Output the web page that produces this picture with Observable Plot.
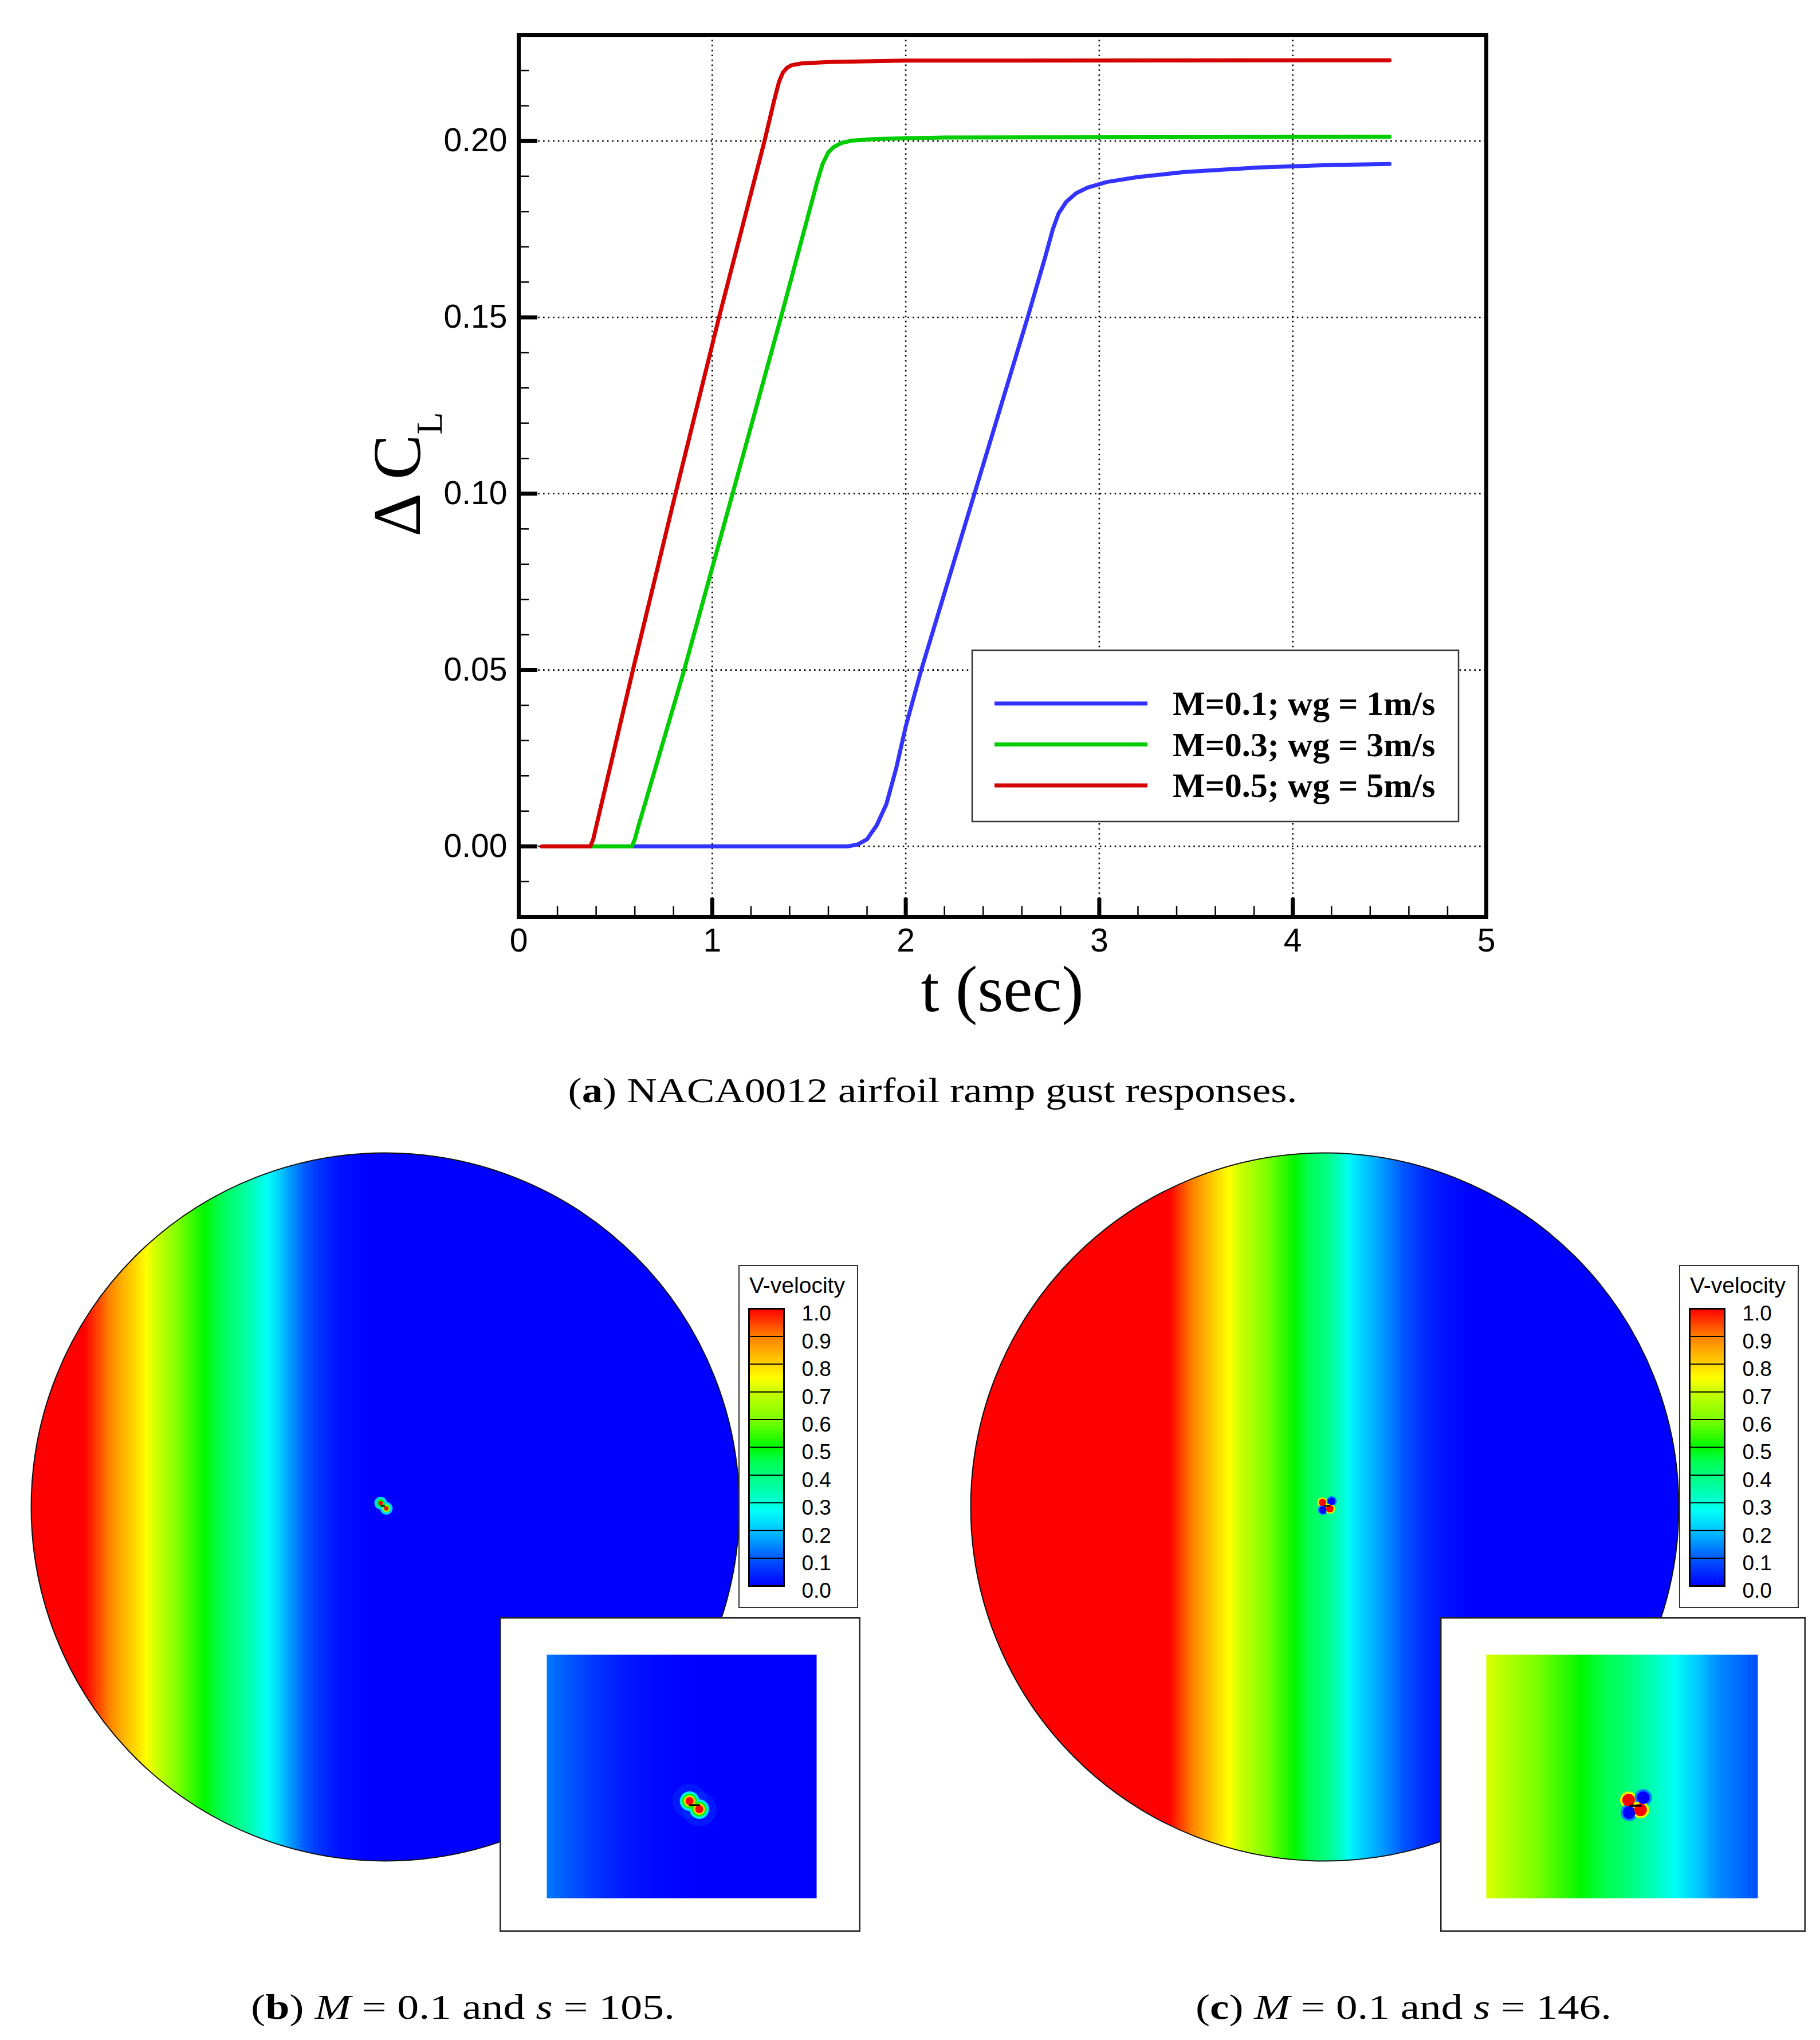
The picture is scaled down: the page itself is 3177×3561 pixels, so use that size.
<!DOCTYPE html>
<html>
<head>
<meta charset="utf-8">
<script src="https://cdn.jsdelivr.net/npm/d3@7"></script>
<script src="https://cdn.jsdelivr.net/npm/@observablehq/plot@0.6"></script>
<style>
html, body { margin: 0; padding: 0; background: #fff; }
#page { position: relative; width: 3177px; height: 3561px; overflow: hidden; background: #fff; }
#page > svg { position: absolute; }
</style>
</head>
<body>
<div id="page"></div>
<script>
// ---------------- data: panel (a) ramp gust responses ----------------
const seriesNames = ["M=0.1; wg = 1m/s", "M=0.3; wg = 3m/s", "M=0.5; wg = 5m/s"];
const seriesColors = ["#3333ff", "#00cc00", "#d40000"];

const tM01 = [0.12, 1.70, 1.75, 1.80, 1.85, 1.90, 1.95, 2.00, 2.08, 2.355, 2.63, 2.72, 2.76, 2.79, 2.83, 2.88, 2.94, 3.04, 3.20, 3.44, 3.83, 4.20, 4.50];
const cM01 = [0.0, 0.0, 0.0005, 0.002, 0.006, 0.012, 0.022, 0.034, 0.050, 0.100, 0.150, 0.167, 0.175, 0.1795, 0.1828, 0.1852, 0.1868, 0.1884, 0.1898, 0.1912, 0.1925, 0.1932, 0.1935];

const tM03 = [0.12, 0.585, 0.60, 0.62, 0.855, 1.105, 1.355, 1.54, 1.57, 1.60, 1.63, 1.67, 1.72, 1.85, 2.20, 4.50];
const cM03 = [0.0, 0.0, 0.002, 0.006, 0.050, 0.100, 0.150, 0.188, 0.1935, 0.1968, 0.1984, 0.1995, 0.2001, 0.2006, 0.2010, 0.2012];

const tM05 = [0.12, 0.37, 0.385, 0.59, 0.81, 1.035, 1.27, 1.32, 1.345, 1.365, 1.385, 1.41, 1.46, 1.60, 2.00, 4.50];
const cM05 = [0.0, 0.0, 0.002, 0.050, 0.100, 0.150, 0.200, 0.2115, 0.2168, 0.2194, 0.2207, 0.2215, 0.2220, 0.2224, 0.2228, 0.2229];

const xMajorTicks = [0, 1, 2, 3, 4, 5];
const xMinorTicks = [0.2, 0.4, 0.6, 0.8, 1.2, 1.4, 1.6, 1.8, 2.2, 2.4, 2.6, 2.8, 3.2, 3.4, 3.6, 3.8, 4.2, 4.4, 4.6, 4.8];
const yMajorTicks = [0.00, 0.05, 0.10, 0.15, 0.20];
const yMinorTicks = [-0.01, 0.01, 0.02, 0.03, 0.04, 0.06, 0.07, 0.08, 0.09, 0.11, 0.12, 0.13, 0.14, 0.16, 0.17, 0.18, 0.19, 0.21, 0.22];
const xDomain = [0, 5];
const yDomain = [-0.02, 0.23];

// ---------------- data: panels (b), (c) V-velocity fields ----------------
const levels = [0.0, 0.1, 0.2, 0.3, 0.4, 0.5, 0.6, 0.7, 0.8, 0.9, 1.0];
const stopValues = [0.0, 0.1, 0.2, 0.27, 0.35, 0.45, 0.5, 0.6, 0.7, 0.75, 0.8, 0.9, 1.0];
const stopColors = ["#0000ff", "#0058ff", "#00c4ff", "#00fff8", "#00ffa8", "#00ff50", "#00f800", "#7cff00", "#c8ff00", "#ffff00", "#ffd400", "#ff8000", "#ff0000"];

// v-velocity across the far field (x in units of the circle radius)
const bandPosB = [-1.1, -0.85, -0.80, -0.755, -0.71, -0.675, -0.63, -0.585, -0.51, -0.45, -0.41, -0.36, -0.32, -0.28, -0.24, -0.19, -0.13, -0.05, 1.1];
const bandVelB = [1.0, 1.0, 0.93, 0.86, 0.80, 0.75, 0.68, 0.60, 0.50, 0.43, 0.38, 0.31, 0.25, 0.18, 0.12, 0.06, 0.02, 0.0, 0.0];
const bandPosC = [-1.1, -0.44, -0.40, -0.355, -0.31, -0.27, -0.22, -0.17, -0.084, -0.03, 0.0, 0.04, 0.078, 0.12, 0.175, 0.22, 0.28, 0.34, 0.42, 1.1];
const bandVelC = [1.0, 1.0, 0.94, 0.87, 0.80, 0.75, 0.68, 0.61, 0.50, 0.43, 0.40, 0.33, 0.25, 0.20, 0.15, 0.10, 0.05, 0.02, 0.0, 0.0];

// v-velocity across the zoomed insets (x from 0 = left edge to 1 = right edge)
const insetPosB = [0.0, 0.08, 0.18, 0.28, 0.40, 0.55, 1.0];
const insetVelB = [0.13, 0.10, 0.06, 0.03, 0.01, 0.0, 0.0];
const insetPosC = [0.0, 0.15, 0.35, 0.50, 0.62, 0.72, 0.85, 1.0];
const insetVelC = [0.72, 0.62, 0.50, 0.42, 0.33, 0.25, 0.15, 0.09];

// singularities around the plate (position + level values from outer ring to core)
const blobsB = [
  {x: -0.013, y: 0.011, vals: [0.22, 0.5, 1.0]},
  {x: 0.003, y: -0.004, vals: [0.22, 0.6, 1.0]}
];
const blobsC = [
  {x: -0.0065, y: 0.0127, vals: [0.72, 1.0]},
  {x: 0.0194, y: 0.016, vals: [0.14, 0.0]},
  {x: -0.005, y: -0.0083, vals: [0.14, 0.0]},
  {x: 0.0146, y: -0.005, vals: [0.72, 1.0]}
];
const insetBlobsB = [
  {x: 0.529, y: 0.601, vals: [0.06, 0.25, 0.5, 0.8, 1.0]},
  {x: 0.565, y: 0.634, vals: [0.06, 0.25, 0.5, 0.8, 1.0]}
];
const insetBlobsC = [
  {x: 0.524, y: 0.597, vals: [0.72, 1.0]},
  {x: 0.578, y: 0.587, vals: [0.14, 0.0]},
  {x: 0.526, y: 0.648, vals: [0.14, 0.0]},
  {x: 0.568, y: 0.637, vals: [0.72, 1.0]}
];
const plateB = [{x1: -0.012, x2: 0.0, y: 0.003}];
const plateC = [{x1: 0.0, x2: 0.016, y: 0.003}];
const insetPlateB = [{x1: 0.527, x2: 0.569, y: 0.618}];
const insetPlateC = [{x1: 0.529, x2: 0.573, y: 0.620}];
const origin = [{x: 0, y: 0}];

// ---------------- layout ----------------
const W = 3177, H = 3561;
const page = d3.select("#page");
const colorScale = {type: "linear", domain: stopValues, range: stopColors, interpolate: "rgb", clamp: true};

function place(svg, left, top) {
  svg.style.left = left + "px";
  svg.style.top = top + "px";
  page.node().appendChild(svg);
  return d3.select(svg);
}

// ---------------- panel (a) ----------------
const fr = {left: 905, right: 2594, top: 61, bottom: 1600};
const chartH = 1800;
const fw = fr.right - fr.left, fh = fr.bottom - fr.top;
const toRows = (t, c) => t.map((d, i) => ({t: d, cl: c[i]}));
const seriesRows = [toRows(tM01, cM01), toRows(tM03, cM03), toRows(tM05, cM05)];
const dotted = {stroke: "#000", strokeOpacity: 1, strokeWidth: 2.6, strokeDasharray: "2.6,6"};

const chart = Plot.plot({
  width: W, height: chartH,
  marginLeft: fr.left, marginRight: W - fr.right, marginTop: fr.top, marginBottom: chartH - fr.bottom,
  x: {domain: xDomain},
  y: {domain: yDomain},
  style: {fontFamily: "'Liberation Sans', Arial, sans-serif", background: "transparent", overflow: "visible"},
  marks: [
    Plot.gridX({ticks: xMajorTicks.slice(1, -1), ...dotted}),
    Plot.gridY({ticks: yMajorTicks, ...dotted}),
    ...seriesRows.map((rows, i) => Plot.line(rows, {x: "t", y: "cl", stroke: seriesColors[i], strokeWidth: 7, strokeLinejoin: "round"})),
    Plot.tickX(xMinorTicks, {x: d => d, insetTop: fh - 18, stroke: "#000", strokeWidth: 2.5}),
    Plot.tickX(xMajorTicks, {x: d => d, insetTop: fh - 33, stroke: "#000", strokeWidth: 7}),
    Plot.tickY(yMinorTicks, {y: d => d, insetRight: fw - 18, stroke: "#000", strokeWidth: 2.5}),
    Plot.tickY(yMajorTicks, {y: d => d, insetRight: fw - 33, stroke: "#000", strokeWidth: 7}),
    Plot.frame({stroke: "#000", strokeWidth: 7}),
    Plot.axisX({ticks: xMajorTicks, tickSize: 0, tickPadding: 20, fontSize: 57, tickFormat: d => String(d), label: null, fill: "#000"}),
    Plot.axisY({ticks: yMajorTicks, tickSize: 0, tickPadding: 20, fontSize: 57, tickFormat: d3.format(".2f"), label: null, fill: "#000"})
  ]
});
const cs = place(chart, 0, 0);

// axis titles
cs.append("text")
  .attr("transform", "translate(733,828) rotate(-90)")
  .attr("text-anchor", "middle")
  .attr("font-family", "'Liberation Serif', 'Times New Roman', serif")
  .attr("font-size", 118)
  .attr("fill", "#000")
  .call(t => {
    t.append("tspan").text("\u0394\u2009C");
    t.append("tspan").attr("font-size", 64).attr("dy", 38).text("L");
  });
cs.append("text")
  .attr("x", (fr.left + fr.right) / 2).attr("y", 1765)
  .attr("text-anchor", "middle")
  .attr("font-family", "'Liberation Serif', 'Times New Roman', serif")
  .attr("font-size", 115).attr("fill", "#000")
  .text("t (sec)");

// legend
const lg = cs.append("g").attr("text-anchor", "start");
lg.append("rect").attr("x", 1697).attr("y", 1135).attr("width", 849).attr("height", 299)
  .attr("fill", "#fff").attr("stroke", "#333").attr("stroke-width", 2.5);
seriesNames.forEach((name, i) => {
  const yy = 1228 + i * 71.5;
  lg.append("line").attr("x1", 1736).attr("x2", 2003).attr("y1", yy).attr("y2", yy)
    .attr("stroke", seriesColors[i]).attr("stroke-width", 7);
  lg.append("text").attr("x", 2047).attr("y", yy).attr("dy", "0.34em")
    .attr("text-anchor", "start")
    .attr("font-family", "'Liberation Serif', 'Times New Roman', serif")
    .attr("font-weight", "bold").attr("font-size", 60).attr("fill", "#000")
    .text(name);
});

// ---------------- panels (b), (c) ----------------
function fieldPoints(pos, vel, ylo, yhi) {
  return pos.flatMap((x, i) => [{x, y: ylo, v: vel[i]}, {x, y: yhi, v: vel[i]}]);
}

function makeCircle(id, pos, vel, blobs, radii, plate, cx, cy) {
  const R = 618, half = 650, ext = half / R;
  const svg = Plot.plot({
    width: 2 * half, height: 2 * half, margin: 0,
    x: {domain: [-ext, ext], axis: null},
    y: {domain: [-ext, ext], axis: null},
    color: colorScale,
    style: {background: "transparent", overflow: "visible"},
    marks: [
      Plot.raster(fieldPoints(pos, vel, -1.1, 1.1), {x: "x", y: "y", fill: "v", interpolate: "barycentric", pixelSize: 2}),
      ...radii.map((r, k) => Plot.dot(blobs, {x: "x", y: "y", r, fill: d => d.vals[k], stroke: null})),
      Plot.ruleY(plate, {y: "y", x1: "x1", x2: "x2", stroke: "#000", strokeWidth: 2.5}),
      Plot.dot(origin, {x: "x", y: "y", r: R, stroke: "#111", strokeWidth: 2, fill: "none"})
    ]
  });
  const s = place(svg, cx - half, cy - half);
  s.append("defs").append("clipPath").attr("id", id).append("circle")
    .attr("cx", half).attr("cy", half).attr("r", R);
  s.select("g[aria-label='raster']").attr("clip-path", `url(#${id})`);
  return s;
}

function makeInset(pos, vel, blobs, radii, plate, left, top, w, h, ml, mt, iw, ih) {
  const svg = Plot.plot({
    width: w, height: h,
    marginLeft: ml, marginTop: mt, marginRight: w - ml - iw, marginBottom: h - mt - ih,
    x: {domain: [0, 1], axis: null},
    y: {domain: [0, 1], reverse: true, axis: null},
    color: colorScale,
    style: {background: "#fff", overflow: "visible"},
    marks: [
      Plot.raster(fieldPoints(pos, vel, 0, 1), {x: "x", y: "y", fill: "v", interpolate: "barycentric", pixelSize: 1}),
      ...radii.map((r, k) => Plot.dot(blobs, {x: "x", y: "y", r, fill: d => d.vals[k], stroke: null, fillOpacity: k === 0 && radii.length > 3 ? 0.45 : 1})),
      Plot.ruleY(plate, {y: "y", x1: "x1", x2: "x2", stroke: "#000", strokeWidth: 3.5})
    ]
  });
  const s = place(svg, left, top);
  s.append("rect").attr("x", 1.25).attr("y", 1.25).attr("width", w - 2.5).attr("height", h - 2.5)
    .attr("fill", "none").attr("stroke", "#222").attr("stroke-width", 2.5);
  return s;
}

function makeColorbar(left, top) {
  const w = 209, h = 599, ml = 18, mt = 76, bw = 61, bh = 484;
  const pts = levels.flatMap(v => [{x: 0, y: v, v}, {x: 1, y: v, v}]);
  const svg = Plot.plot({
    width: w, height: h,
    marginLeft: ml, marginTop: mt, marginRight: w - ml - bw, marginBottom: h - mt - bh,
    x: {domain: [0, 1], axis: null},
    y: {domain: [0, 1], axis: null},
    color: colorScale,
    style: {background: "#fff", overflow: "visible", fontFamily: "'Liberation Sans', Arial, sans-serif"},
    marks: [
      Plot.raster(pts, {x: "x", y: "y", fill: "v", interpolate: "barycentric", pixelSize: 1}),
      Plot.ruleY(levels.slice(1, -1), {stroke: "#000", strokeWidth: 2}),
      Plot.frame({stroke: "#000", strokeWidth: 3}),
      Plot.text(levels, {x: 1, y: d => d, text: d => d.toFixed(1), dx: 31, dy: 9, textAnchor: "start", fontSize: 37, fill: "#000"})
    ]
  });
  const s = place(svg, left, top);
  s.append("rect").attr("x", 1).attr("y", 1).attr("width", w - 2).attr("height", h - 2)
    .attr("fill", "none").attr("stroke", "#333").attr("stroke-width", 2);
  s.append("text").attr("x", ml + 1).attr("y", 49)
    .attr("text-anchor", "start")
    .attr("font-family", "'Liberation Sans', Arial, sans-serif").attr("font-size", 39).attr("fill", "#000")
    .text("V-velocity");
  return s;
}

makeCircle("clipB", bandPosB, bandVelB, blobsB, [11, 7, 3.8], plateB, 672, 2630);
makeCircle("clipC", bandPosC, bandVelC, blobsC, [9, 6.5], plateC, 2312, 2630);
makeColorbar(1289, 2208);
makeColorbar(2931, 2208);
makeInset(insetPosB, insetVelB, insetBlobsB, [30, 17, 13, 10, 7], insetPlateB, 872, 2823, 630, 549, 82, 65, 471, 425);
makeInset(insetPosC, insetVelC, insetBlobsC, [15, 11], insetPlateC, 2514, 2823, 638, 549, 80, 65, 474, 425);

// ---------------- captions ----------------
const ov = page.append("svg").attr("width", W).attr("height", H).style("left", 0).style("top", 0);
function caption(x, y, len, parts) {
  const t = ov.append("text").attr("x", x).attr("y", y)
    .attr("text-anchor", "middle")
    .attr("font-family", "'Liberation Serif', 'Times New Roman', serif")
    .attr("font-size", 62).attr("fill", "#000")
    .attr("textLength", len).attr("lengthAdjust", "spacingAndGlyphs");
  parts.forEach(([s, st]) => {
    const sp = t.append("tspan").text(s);
    if (st === "b") sp.attr("font-weight", "bold");
    if (st === "i") sp.attr("font-style", "italic");
  });
}
caption(1628, 1924, 1273, [["(", ""], ["a", "b"], [") NACA0012 airfoil ramp gust responses.", ""]]);
caption(808, 3524, 740, [["(", ""], ["b", "b"], [") ", ""], ["M", "i"], [" = 0.1 and ", ""], ["s", "i"], [" = 105.", ""]]);
caption(2450, 3524, 726, [["(", ""], ["c", "b"], [") ", ""], ["M", "i"], [" = 0.1 and ", ""], ["s", "i"], [" = 146.", ""]]);
</script>
</body>
</html>
